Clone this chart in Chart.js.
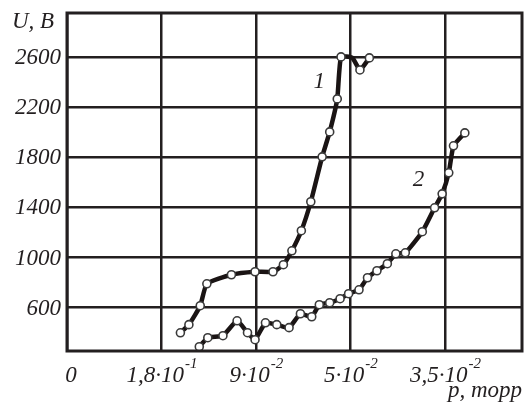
<!DOCTYPE html>
<html>
<head>
<meta charset="utf-8">
<script src="https://cdn.jsdelivr.net/npm/chart.js@4"></script>
<style>
  html, body { margin: 0; padding: 0; background: #fff; }
  #wrap { width: 529px; height: 403px; }
</style>
</head>
<body>
<div id="wrap"><canvas id="c"></canvas></div>
<script>
// x axis: equally spaced pressure marks (index 0..4 on the scale)
const xTickPos = [0, 1, 2, 3, 4];
const xTickBase = ['0', '1,8·10', '9·10', '5·10', '3,5·10'];
const xTickExp = ['', '-1', '-2', '-2', '-2'];
const yTicks = [600, 1000, 1400, 1800, 2200, 2600];

// curve 1
const x1 = [1.20, 1.29, 1.41, 1.48, 1.74, 1.99, 2.18, 2.29, 2.38, 2.48, 2.58, 2.70, 2.78, 2.86, 2.90, 3.02, 3.10, 3.20];
const u1 = [400, 465, 616, 791, 863, 887, 887, 943, 1054, 1214, 1445, 1803, 2002, 2265, 2600, 2592, 2496, 2592];
const mark1 = [1, 1, 1, 1, 1, 1, 1, 1, 1, 1, 1, 1, 1, 1, 1, 0, 1, 1];

// curve 2
const x2 = [1.40, 1.49, 1.65, 1.80, 1.91, 1.99, 2.10, 2.22, 2.35, 2.47, 2.59, 2.67, 2.78, 2.89, 2.98, 3.09, 3.18, 3.28, 3.39, 3.48, 3.58, 3.76, 3.89, 3.97, 4.04, 4.09, 4.21];
const u2 = [289, 361, 377, 496, 401, 345, 480, 465, 441, 552, 528, 624, 640, 672, 712, 743, 839, 895, 951, 1030, 1038, 1206, 1397, 1508, 1676, 1891, 1994];

const curveLabels = [
  { text: '1', x: 2.67, y: 2400 },
  { text: '2', x: 3.72, y: 1620 }
];

const FONT = 'italic 23px "Liberation Serif", "DejaVu Serif", serif';
const SUP = 'italic 15px "Liberation Serif", "DejaVu Serif", serif';
const INK = '#231f20';

function toPoints(xs, ys) {
  return xs.map((x, i) => ({ x, y: ys[i] }));
}

const labelsPlugin = {
  id: 'labels',
  afterDraw(chart) {
    const { ctx, chartArea: a, scales } = chart;
    ctx.save();
    // frame
    ctx.strokeStyle = INK;
    ctx.lineWidth = 3;
    ctx.strokeRect(a.left, a.top, a.right - a.left, a.bottom - a.top);

    ctx.fillStyle = INK;
    ctx.font = FONT;
    // y tick labels
    ctx.textAlign = 'right';
    ctx.textBaseline = 'middle';
    yTicks.forEach(v => {
      ctx.fillText(String(v), a.left - 6, scales.y.getPixelForValue(v) + 1);
    });
    // x tick labels with superscript exponents
    ctx.textBaseline = 'alphabetic';
    xTickPos.forEach((p, i) => {
      ctx.font = FONT;
      const wb = ctx.measureText(xTickBase[i]).width;
      ctx.font = SUP;
      const we = xTickExp[i] ? ctx.measureText(xTickExp[i]).width : 0;
      const cx = scales.x.getPixelForValue(p) + (i === 0 ? 4 : 0);
      const left = cx - (wb + we) / 2;
      ctx.textAlign = 'left';
      ctx.font = FONT;
      ctx.fillText(xTickBase[i], left, a.bottom + 31);
      if (xTickExp[i]) {
        ctx.font = SUP;
        ctx.fillText(xTickExp[i], left + wb + 1, a.bottom + 17);
      }
    });
    // axis titles
    ctx.font = FONT;
    ctx.textAlign = 'left';
    ctx.textBaseline = 'middle';
    ctx.fillText('U, B', 12, 22);
    ctx.textAlign = 'right';
    ctx.fillText('p, торр', a.right, a.bottom + 40);
    // curve numbers
    ctx.textAlign = 'center';
    curveLabels.forEach(l => {
      ctx.fillText(l.text, scales.x.getPixelForValue(l.x), scales.y.getPixelForValue(l.y));
    });
    ctx.restore();
  }
};

const lineStyle = {
  borderColor: '#1a1414',
  borderWidth: 4.5,
  tension: 0.15,
  pointBackgroundColor: '#ffffff',
  pointBorderColor: '#3a3a3a',
  pointBorderWidth: 1.6,
  pointHoverRadius: 4,
  fill: false
};

new Chart(document.getElementById('c'), {
  type: 'line',
  data: {
    datasets: [
      Object.assign({ data: toPoints(x1, u1), pointRadius: ctx => mark1[ctx.dataIndex] ? 4 : 0 }, lineStyle),
      Object.assign({ data: toPoints(x2, u2), pointRadius: 4 }, lineStyle)
    ]
  },
  options: {
    responsive: true,
    maintainAspectRatio: false,
    animation: false,
    layout: { padding: { left: 67, top: 13, right: 7, bottom: 52 } },
    plugins: {
      legend: { display: false },
      tooltip: { enabled: false }
    },
    scales: {
      x: {
        type: 'linear',
        min: 0,
        max: 4.815,
        afterBuildTicks: s => { s.ticks = xTickPos.map(v => ({ value: v })); },
        ticks: { display: false },
        grid: { color: INK, lineWidth: 2.5, drawTicks: false },
        border: { display: false }
      },
      y: {
        min: 255,
        max: 2950,
        afterBuildTicks: s => { s.ticks = yTicks.map(v => ({ value: v })); },
        ticks: { display: false },
        grid: { color: INK, lineWidth: 2.5, drawTicks: false },
        border: { display: false }
      }
    }
  },
  plugins: [labelsPlugin]
});
</script>
</body>
</html>
